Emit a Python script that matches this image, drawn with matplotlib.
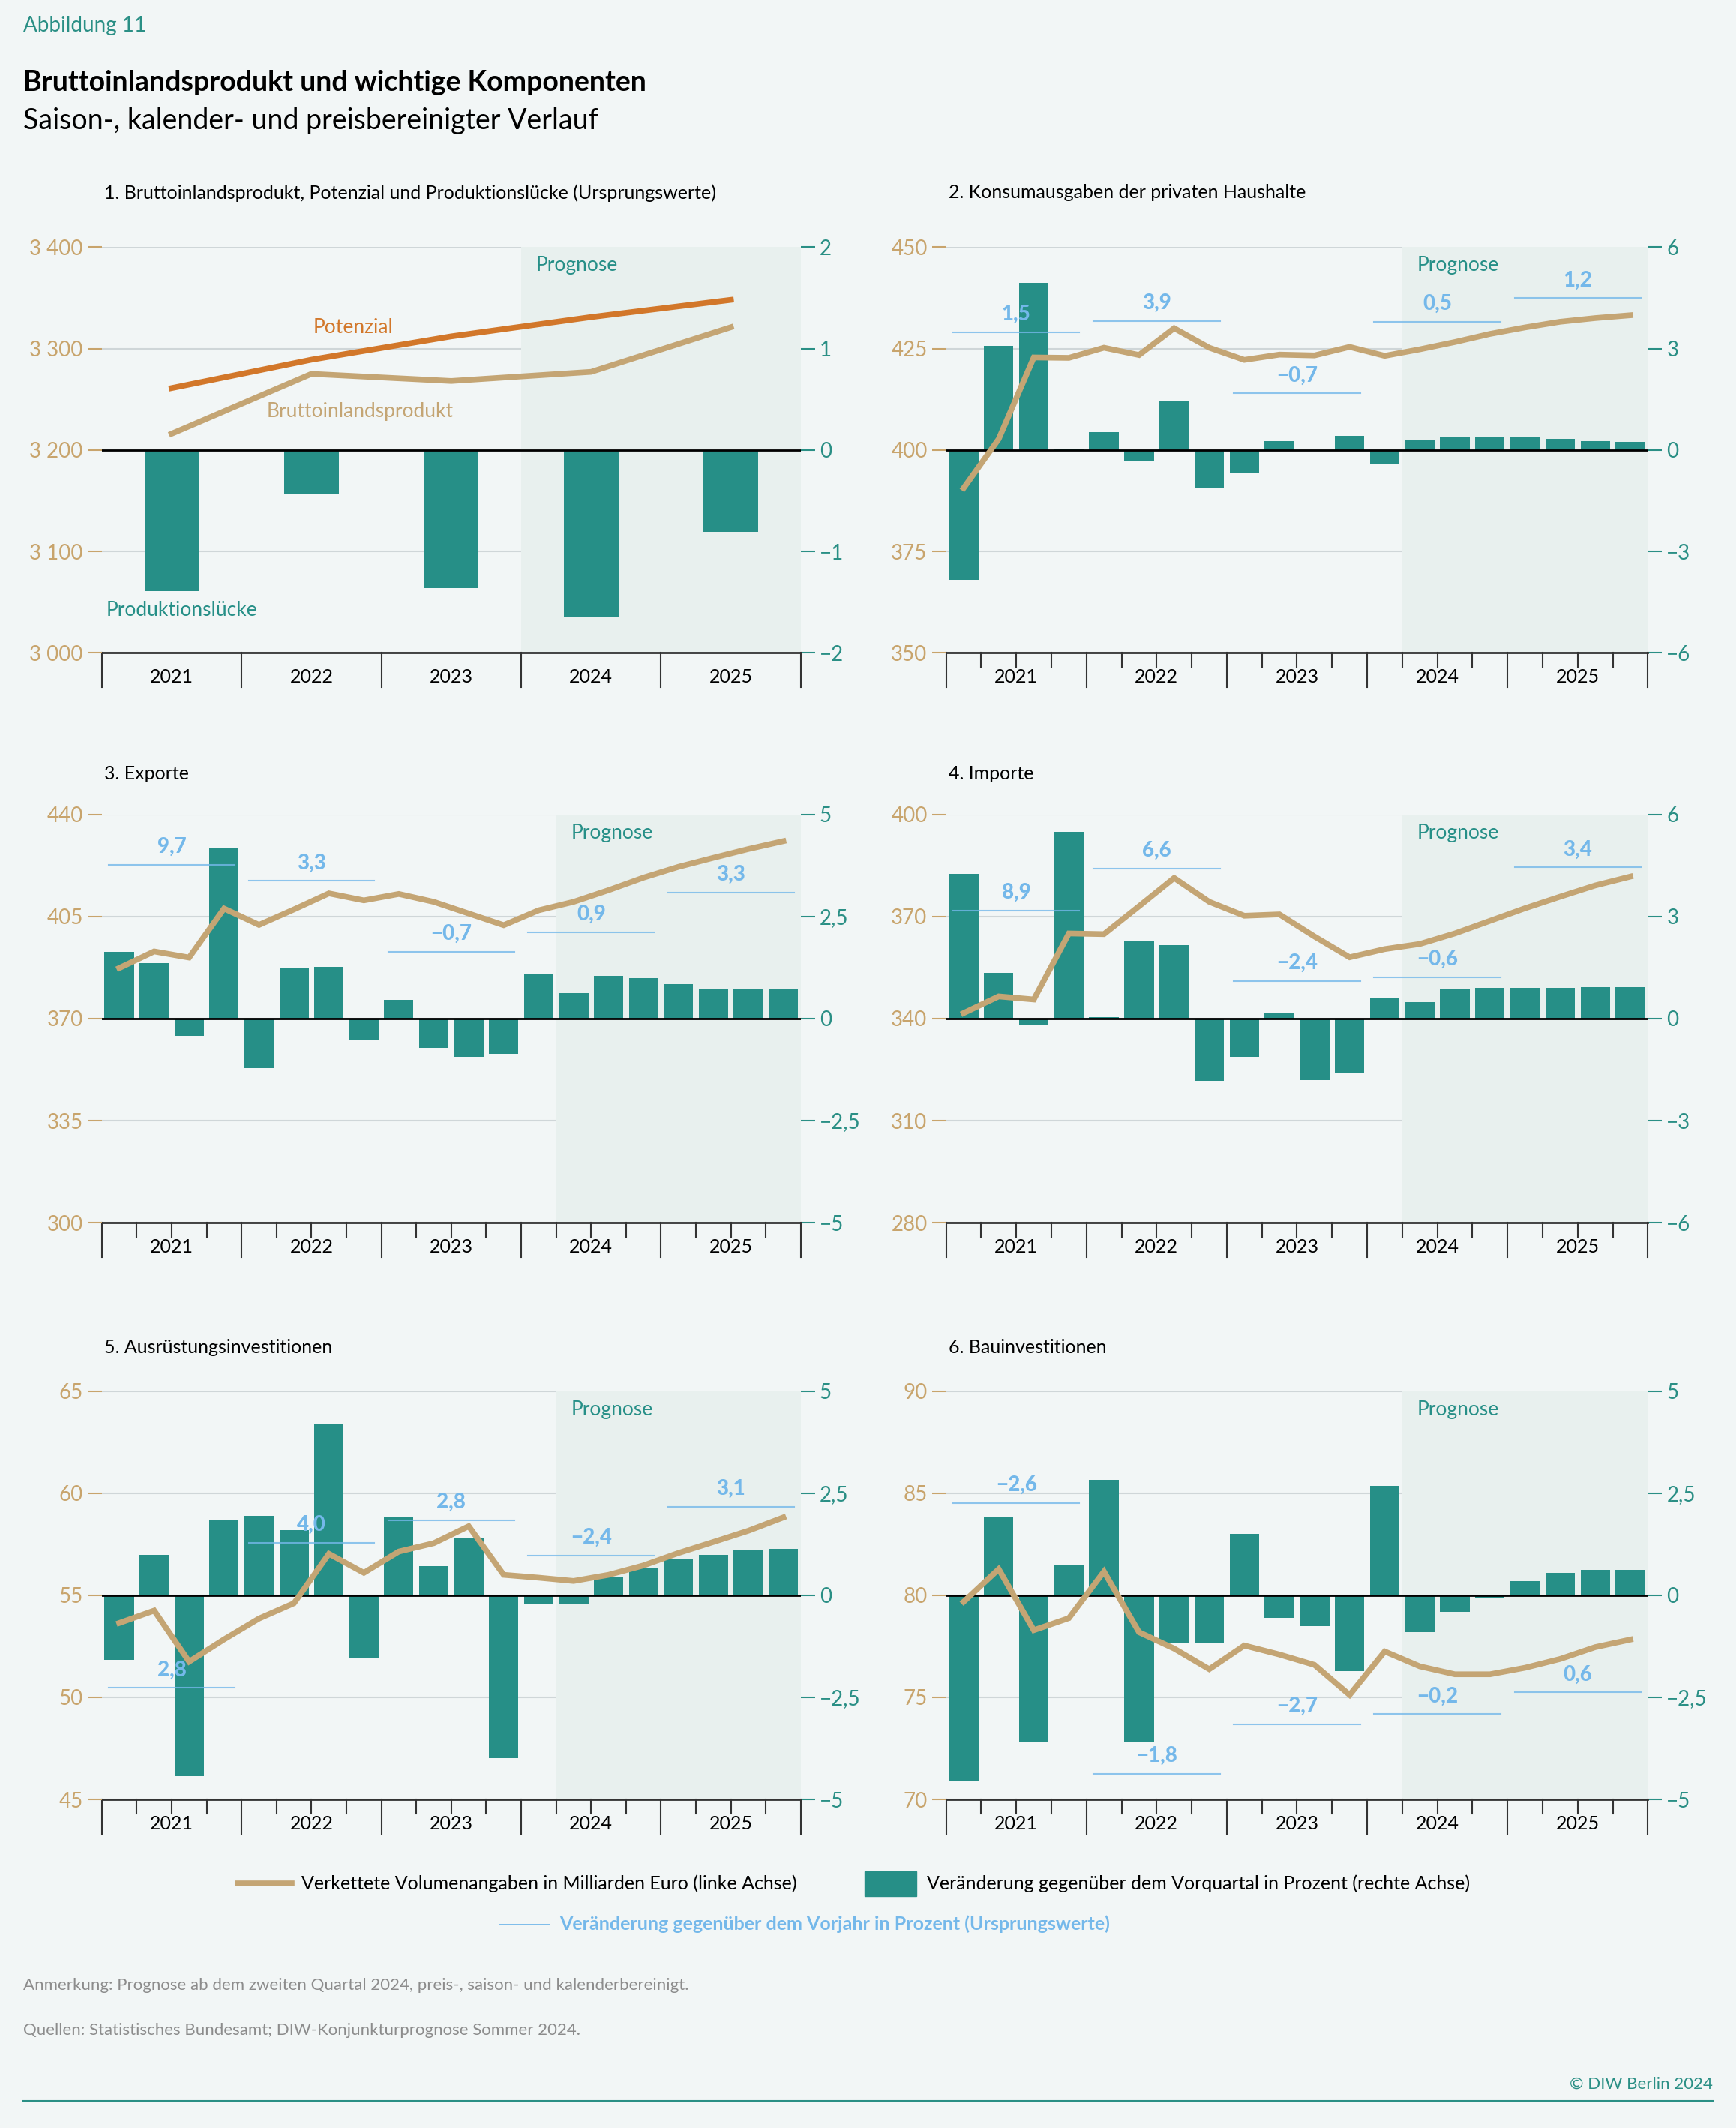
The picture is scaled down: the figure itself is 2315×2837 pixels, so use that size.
import matplotlib
matplotlib.use("Agg")
import matplotlib.pyplot as plt
import numpy as np

plt.rcParams['font.family'] = ['Lato', 'DejaVu Sans']

BG = '#f2f6f6'; TEAL = '#268f87'; TAN = '#c4a574'; ORANGE = '#d2772a'
BLUE = '#74b8ea'; SHADE = '#e8f0ee'; GRID = '#cfd6d8'; TANTXT = '#c8a46c'; TEALTXT = '#2a8f85'

years = ['2021', '2022', '2023', '2024', '2025']

# Panel 1 (annual)
p1_potenzial = [3261, 3289, 3312, 3331, 3348]
p1_bip = [3216, 3275, 3268, 3277, 3321]
p1_luecke = [-1.39, -0.43, -1.36, -1.64, -0.81]

# Quarterly panels: line (left axis), bars (right axis), annual % labels
p2_line = [390.6, 402.7, 422.8, 422.7, 425.2, 423.4, 430.0, 425.2, 422.2, 423.5, 423.3, 425.4,
           423.2, 424.8, 426.6, 428.6, 430.2, 431.6, 432.5, 433.2]
p2_bars = [-3.84, 3.08, 4.94, 0.03, 0.53, -0.34, 1.44, -1.11, -0.66, 0.26, -0.03, 0.42,
           -0.42, 0.31, 0.39, 0.40, 0.38, 0.32, 0.26, 0.23]
p2_annual = ['1,5', '3,9', '−0,7', '0,5', '1,2']

p3_line = [387.3, 393.0, 390.9, 407.7, 402.1, 407.4, 412.9, 410.5, 412.7, 410.0, 406.0, 402.0,
           407.1, 410.0, 414.0, 418.3, 422.0, 425.1, 428.1, 430.8]
p3_bars = [1.64, 1.36, -0.42, 4.17, -1.22, 1.22, 1.27, -0.51, 0.45, -0.71, -0.94, -0.87,
           1.08, 0.63, 1.04, 0.99, 0.85, 0.73, 0.73, 0.73]
p3_annual = ['9,7', '3,3', '−0,7', '0,9', '3,3']

p4_line = [341.6, 346.5, 345.6, 365.0, 364.8, 373.0, 381.3, 374.3, 370.2, 370.6, 364.1, 358.0,
           360.4, 361.9, 365.0, 368.7, 372.4, 375.8, 379.1, 381.7]
p4_bars = [4.26, 1.35, -0.17, 5.49, 0.05, 2.27, 2.15, -1.84, -1.12, 0.16, -1.82, -1.61,
           0.62, 0.48, 0.85, 0.89, 0.89, 0.89, 0.92, 0.92]
p4_annual = ['8,9', '6,6', '−2,4', '−0,6', '3,4']

p5_line = [53.64, 54.25, 51.75, 52.84, 53.86, 54.61, 57.03, 56.10, 57.14, 57.55, 58.38, 56.00,
           55.86, 55.70, 56.00, 56.46, 57.07, 57.61, 58.16, 58.81]
p5_bars = [-1.59, 0.98, -4.43, 1.83, 1.95, 1.59, 4.20, -1.54, 1.91, 0.71, 1.39, -3.99,
           -0.20, -0.23, 0.45, 0.68, 0.90, 0.99, 1.09, 1.13]
p5_annual = ['2,8', '4,0', '2,8', '−2,4', '3,1']

p6_line = [79.68, 81.28, 78.29, 78.88, 81.16, 78.19, 77.39, 76.38, 77.54, 77.10, 76.59, 75.12,
           77.25, 76.52, 76.13, 76.13, 76.45, 76.88, 77.46, 77.83]
p6_bars = [-4.55, 1.92, -3.59, 0.75, 2.82, -3.59, -1.17, -1.17, 1.51, -0.56, -0.76, -1.86,
           2.67, -0.90, -0.41, -0.07, 0.34, 0.54, 0.62, 0.62]
p6_annual = ['−2,6', '−1,8', '−2,7', '−0,2', '0,6']

fig = plt.figure(figsize=(23.15, 28.37), dpi=100)
fig.patch.set_facecolor(BG)

W, H = 1279, 1568
def rect(x0, y0, x1, y1):
    return [x0 / W, 1 - y1 / H, (x1 - x0) / W, (y1 - y0) / H]

def fmt(v):
    s = ('%g' % v).replace('.', ',')
    if v < 0:
        s = '−' + s[1:]
    return s

def fmt_left(v):
    return f'{int(round(v)):,}'.replace(',', ' ')

def setup(r, lylim, lticks, rylim, rticks, nx, title, shade_start, title_y):
    ax2 = fig.add_axes(r)
    ax = ax2.twinx()
    ax2.set_facecolor(BG)
    ax.patch.set_visible(False)
    ax.set_zorder(ax2.get_zorder() + 1)
    ax2.yaxis.tick_right(); ax.yaxis.tick_left()
    for a in (ax, ax2):
        a.set_xlim(-0.5, nx - 0.5)
        for s in a.spines.values():
            s.set_visible(False)
    ax.set_ylim(*lylim); ax.set_yticks(lticks)
    ax.set_yticklabels([fmt_left(t) for t in lticks])
    ax2.set_ylim(*rylim); ax2.set_yticks(rticks)
    ax2.set_yticklabels([fmt(t) for t in rticks])
    ax.tick_params(axis='y', colors=TANTXT, labelcolor=TANTXT, labelsize=20, length=14, width=1.5, pad=4)
    ax2.tick_params(axis='y', colors=TEALTXT, labelcolor=TEALTXT, labelsize=20, length=14, width=1.5, pad=4)
    for t in rticks:
        ax2.axhline(t, color=GRID, lw=1.5, zorder=0)
    ax2.axvspan(shade_start, nx - 0.5, color=SHADE, zorder=0.5, lw=0)
    ax2.axhline(0, color='black', lw=2, zorder=3)
    ax2.spines['bottom'].set_visible(True)
    ax2.spines['bottom'].set_color('#333333'); ax2.spines['bottom'].set_linewidth(2)
    ax.set_xticks([]); ax2.set_xticks([])
    fig.text(r[0] + 2 / W, 1 - title_y / H, title, fontsize=18, color='black', va='center', ha='left')
    return ax, ax2

def xaxis_quarters(ax2, nq):
    trans = ax2.get_xaxis_transform()
    for i in range(nq + 1):
        x = i - 0.5
        major = (i % 4 == 0)
        ax2.plot([x, x], [0, -0.085 if major else -0.035], transform=trans, color='#333333',
                 lw=1.5, clip_on=False)
    for k, y in enumerate(years):
        ax2.text(4 * k + 1.5, -0.06, y, transform=trans, ha='center', va='center', fontsize=18)

def annual_labels(ax2, labels, ypos):
    for k, (lab, y) in enumerate(zip(labels, ypos)):
        ax2.plot([4 * k - 0.3, 4 * k + 3.3], [y, y], color=BLUE, lw=1.5, alpha=0.8, zorder=4)
        ax2.text(4 * k + 1.5, y + 0.02 * (ax2.get_ylim()[1] - ax2.get_ylim()[0]), lab,
                 ha='center', va='bottom', color=BLUE, fontsize=20, fontweight='black', zorder=4)

# ---------- Panel 1 ----------
ax, ax2 = setup(rect(75, 182, 590, 481), (3000, 3400), [3000, 3100, 3200, 3300, 3400],
                (-2, 2), [-2, -1, 0, 1, 2], 5,
                '1. Bruttoinlandsprodukt, Potenzial und Produktionslücke (Ursprungswerte)', 2.5, 142)
xi = np.arange(5)
ax2.bar(xi, p1_luecke, width=0.39, color=TEAL, zorder=2)
ax.plot(xi, p1_potenzial, color=ORANGE, lw=5.5)
ax.plot(xi, p1_bip, color=TAN, lw=5.5)
trans = ax2.get_xaxis_transform()
for i in range(6):
    ax2.plot([i - 0.5, i - 0.5], [0, -0.085], transform=trans, color='#333333', lw=1.5, clip_on=False)
for k, y in enumerate(years):
    ax2.text(k, -0.06, y, transform=trans, ha='center', va='center', fontsize=18)
ax.text(1.3, 3321, 'Potenzial', color=ORANGE, fontsize=19, ha='center', va='center')
ax.text(1.35, 3238, 'Bruttoinlandsprodukt', color=TAN, fontsize=19, ha='center', va='center')
ax.text(0.07, 3042, 'Produktionslücke', color=TEAL, fontsize=19, ha='center', va='center')
ax.text(2.9, 3382, 'Prognose', color=TEAL, fontsize=19, ha='center', va='center')

# ---------- Quarterly panels ----------
qx = np.arange(20)
panels = [
    (rect(697, 182, 1214, 481), (350, 450), [350, 375, 400, 425, 450], (-6, 6), [-6, -3, 0, 3, 6],
     '2. Konsumausgaben der privaten Haushalte', p2_line, p2_bars, p2_annual, [3.48, 3.81, 1.67, 3.79, 4.49], 142),
    (rect(75, 600, 590, 901), (300, 440), [300, 335, 370, 405, 440], (-5, 5), [-5, -2.5, 0, 2.5, 5],
     '3. Exporte', p3_line, p3_bars, p3_annual, [3.77, 3.37, 1.63, 2.11, 3.09], 570),
    (rect(697, 600, 1214, 901), (280, 400), [280, 310, 340, 370, 400], (-6, 6), [-6, -3, 0, 3, 6],
     '4. Importe', p4_line, p4_bars, p4_annual, [3.17, 4.41, 1.11, 1.22, 4.44], 570),
    (rect(75, 1025, 590, 1326), (45, 65), [45, 50, 55, 60, 65], (-5, 5), [-5, -2.5, 0, 2.5, 5],
     '5. Ausrüstungsinvestitionen', p5_line, p5_bars, p5_annual, [-2.27, 1.28, 1.83, 0.97, 2.17], 993),
    (rect(697, 1025, 1214, 1326), (70, 90), [70, 75, 80, 85, 90], (-5, 5), [-5, -2.5, 0, 2.5, 5],
     '6. Bauinvestitionen', p6_line, p6_bars, p6_annual, [2.26, -4.37, -3.16, -2.91, -2.38], 993),
]
for r, ly, lt, ry, rt, title, line, bars, ann, apos, ty in panels:
    ax, ax2 = setup(r, ly, lt, ry, rt, 20, title, 12.5, ty)
    ax2.bar(qx, bars, width=0.84, color=TEAL, zorder=2)
    ax.plot(qx, line, color=TAN, lw=5.5, solid_joinstyle='miter')
    xaxis_quarters(ax2, 20)
    annual_labels(ax2, ann, apos)
    ax2.text(14.1, ry[1] - 0.045 * (ry[1] - ry[0]), 'Prognose', color=TEAL, fontsize=19,
             ha='center', va='center')

# ---------- Header ----------
fig.text(17 / W, 1 - 19 / H, 'Abbildung 11', color=TEALTXT, fontsize=20, va='center')
fig.text(17 / W, 1 - 61 / H, 'Bruttoinlandsprodukt und wichtige Komponenten', fontsize=27,
         fontweight='bold', va='center')
fig.text(17 / W, 1 - 89 / H, 'Saison-, kalender- und preisbereinigter Verlauf', fontsize=27, va='center')

# ---------- Legend ----------
ly = 1 - 1388 / H
fig.add_artist(plt.Line2D([175 / W, 215 / W], [ly, ly], color=TAN, lw=5.5))
fig.text(222 / W, ly, 'Verkettete Volumenangaben in Milliarden Euro (linke Achse)', fontsize=18, va='center')
fig.add_artist(plt.Rectangle((637 / W, ly - 9 / H), 38 / W, 18 / H, color=TEAL))
fig.text(683 / W, ly, 'Veränderung gegenüber dem Vorquartal in Prozent (rechte Achse)', fontsize=18, va='center')
ly2 = 1 - 1418 / H
fig.add_artist(plt.Line2D([368 / W, 405 / W], [ly2, ly2], color=BLUE, lw=1.3))
fig.text(412 / W, ly2, 'Veränderung gegenüber dem Vorjahr in Prozent (Ursprungswerte)', fontsize=18,
         va='center', color=BLUE, fontweight='bold')

fig.text(17 / W, 1 - 1463 / H, 'Anmerkung: Prognose ab dem zweiten Quartal 2024, preis-, saison- und kalenderbereinigt.',
         fontsize=16, color='#8c8c8c', va='center')
fig.text(17 / W, 1 - 1496 / H, 'Quellen: Statistisches Bundesamt; DIW-Konjunkturprognose Sommer 2024.',
         fontsize=16, color='#8c8c8c', va='center')
fig.text(1262 / W, 1 - 1536 / H, '© DIW Berlin 2024', fontsize=16, color=TEALTXT, va='center', ha='right')
fig.add_artist(plt.Line2D([17 / W, 1262 / W], [1 - 1548 / H, 1 - 1548 / H], color=TEALTXT, lw=1.5))

fig.savefig('out.png', dpi=100, facecolor=BG)
